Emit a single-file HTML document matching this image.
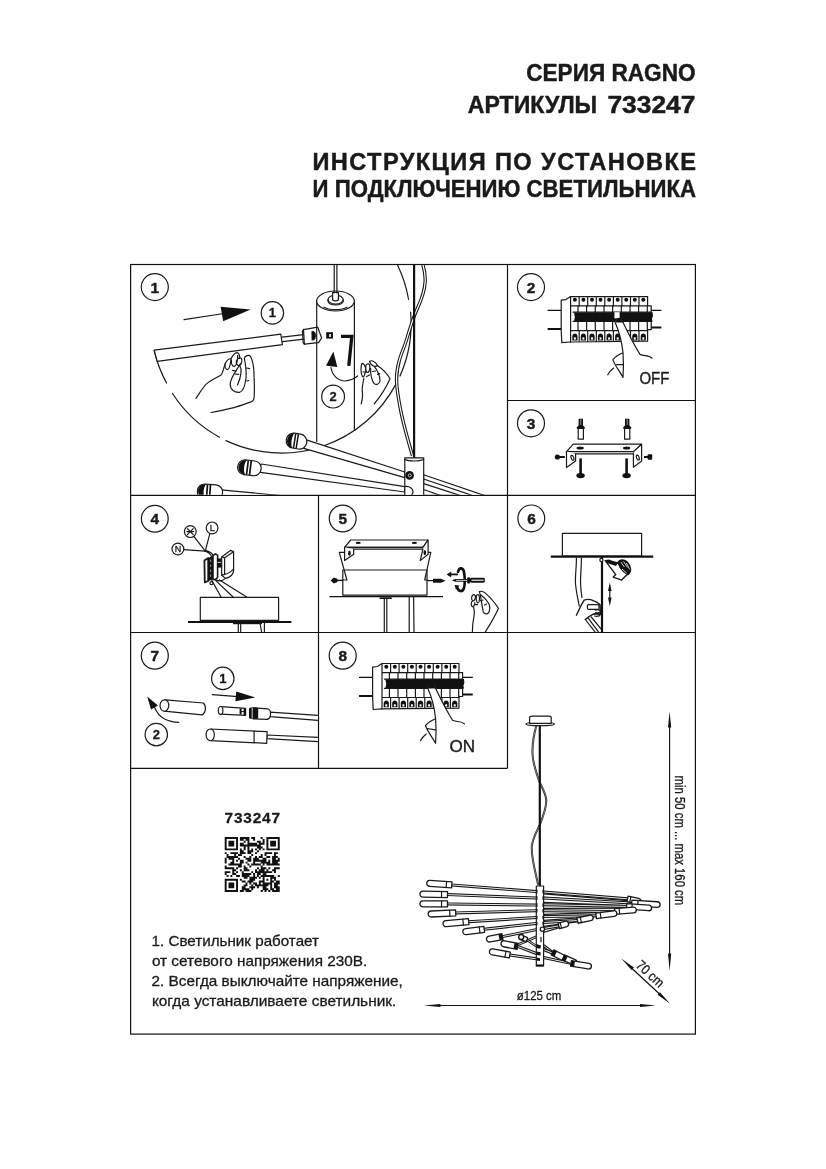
<!DOCTYPE html>
<html lang="ru">
<head>
<meta charset="utf-8">
<title>Инструкция по установке и подключению светильника</title>
<style>
html,body{margin:0;padding:0;background:#fff;}
body{width:826px;height:1169px;overflow:hidden;position:relative;font-family:"Liberation Sans",sans-serif;}
svg{position:absolute;left:0;top:0;display:block;filter:grayscale(1);}
text{font-family:"Liberation Sans",sans-serif;fill:#1a1a1a;}
.hd{font-weight:bold;font-size:23.6px;stroke:#1a1a1a;stroke-width:0.45;stroke-linejoin:round;}
.num{font-weight:bold;font-size:15.4px;text-anchor:middle;stroke:#1a1a1a;stroke-width:0.45;}
.snum{font-weight:bold;font-size:13px;text-anchor:middle;stroke:#1a1a1a;stroke-width:0.3;}
.note{font-size:14.6px;fill:#1a1a1a;stroke:#1a1a1a;stroke-width:0.3;}
.g{fill:none;stroke:#111;stroke-width:1.2;}
.t{fill:none;stroke:#1a1a1a;stroke-width:1.2;stroke-linecap:round;stroke-linejoin:round;}
.tw{fill:#fff;stroke:#1a1a1a;stroke-width:1.2;stroke-linecap:round;stroke-linejoin:round;}
.k{fill:#111;stroke:none;}
</style>
</head>
<body>
<svg width="826" height="1169" viewBox="0 0 826 1169">
<!-- HEADER -->
<g id="header">
<text class="hd" x="526.2" y="81.4" textLength="169.4" lengthAdjust="spacingAndGlyphs">СЕРИЯ RAGNO</text>
<text class="hd" x="467.8" y="113.3" textLength="129.4" lengthAdjust="spacingAndGlyphs">АРТИКУЛЫ</text>
<text class="hd" x="607.4" y="113.3" textLength="88" lengthAdjust="spacingAndGlyphs">733247</text>
<text class="hd" x="312.4" y="170" textLength="383.6" lengthAdjust="spacing">ИНСТРУКЦИЯ ПО УСТАНОВКЕ</text>
<text class="hd" x="312.6" y="197.2" textLength="383.4" lengthAdjust="spacingAndGlyphs">И ПОДКЛЮЧЕНИЮ СВЕТИЛЬНИКА</text>
</g>
<!-- GRID -->
<g id="grid" class="g">
<rect x="130.6" y="264.5" width="564.8" height="769.6"/>
<path d="M507.5 264.5V768.3M318.5 495.4V768.3M507.5 400.5H695.4M130.6 495.4H695.4M130.6 632.5H695.4M130.6 768.3H507.5"/>
</g>
<!-- STEP NUMBERS -->
<g id="steps">
<g class="t"><circle cx="154.8" cy="287.1" r="13.5"/><circle cx="531" cy="287.1" r="13.5"/><circle cx="531" cy="423.3" r="13.5"/>
<circle cx="154.8" cy="518.8" r="13.4"/><circle cx="342.7" cy="518.5" r="13.4"/><circle cx="531.3" cy="518.4" r="13.4"/>
<circle cx="154.8" cy="655.7" r="13.5"/><circle cx="342.7" cy="655.7" r="13.5"/></g>
<text class="num" x="154.8" y="292.5">1</text><text class="num" x="531" y="292.5">2</text><text class="num" x="531" y="428.5">3</text>
<text class="num" x="154.8" y="524.2">4</text><text class="num" x="342.7" y="523.9">5</text><text class="num" x="531.6" y="523.7">6</text>
<text class="num" x="154.8" y="661.1">7</text><text class="num" x="342.7" y="661.1">8</text>
</g>
<!-- PANELS -->
<g id="p1" clip-path="url(#c1)">
<defs><clipPath id="c1"><rect x="131.2" y="265.1" width="375.7" height="229.7"/></clipPath></defs>
<!-- magnifier circle (dashed-gap arc) -->
<path class="t" d="M154.2 350.5A129.7 129.7 0 0 0 166.5 383"/>
<path class="t" d="M172.5 393.5A129.7 129.7 0 0 0 219.5 437.2"/>
<path class="t" d="M226 440.6A129.7 129.7 0 0 0 395.8 384.4"/>
<path class="t" d="M400 376A129.7 129.7 0 0 0 410.6 312"/>
<path class="t" d="M408.6 299.5A129.7 129.7 0 0 0 396 262"/>
<!-- direction arrow + small 1 -->
<path class="t" d="M184 319.6L224 313.5"/>
<path class="k" d="M220.6 306.8L250.6 309.4L223.2 321.2Z"/>
<circle class="t" cx="272.4" cy="312.9" r="11.2"/>
<text class="snum" x="272.4" y="317.4">1</text>
<!-- tube -->
<path class="tw" d="M154.2 350.2L280.8 334.2L282.4 344.6L157.2 361.4Z"/>
<path class="t" d="M282 337.2L303.5 334.6M282.4 341.6L304 339.2" stroke-width="1.3"/>
<path class="tw" d="M303.5 329.6L317.8 327.2L321.6 338L318.6 342.6L304.4 344.2Z"/>
<path class="k" d="M311.4 331.2L313.6 330.9C316.6 332.2 316.8 338.6 313.8 340.3L311.6 340.6Z"/>
<path class="t" d="M303.6 329.4L302.4 331L303.2 342.8L304.6 344.4" stroke-width="2.2"/>
<!-- hand 1 -->
<path class="t" d="M195.9 398.3C199 394 203 387 206.8 383.6C211 380 217 377.5 221 374.9C223 373 224 366 225.3 363.4C226.5 361 229 358.5 231 358.8C232.5 356 235 352.5 237 352.6C239 353 240 356 239.6 358.5" stroke-width="1.3"/>
<path class="t" d="M225.3 363.4C224.5 366.5 225.5 369.5 227.5 369.6C229.5 369.4 230.5 364 231 358.8M231.5 360C231 364 232.5 366.8 234.4 366.4C236.5 365.5 238 360 237.6 355.5M236.5 360.5C235.6 363.5 237.5 366 239.5 365.5C241.5 364.5 242.5 361 241.5 358.5C240.5 357 238 358 236.5 360.5"/>
<path class="t" d="M240.6 363.5C237 370 230 378 230.2 384.6C230.4 390 234.5 392.6 239.5 392.3C243.5 391.5 245 386 246 378C246.6 371 245.5 364 244.4 358.5C244.5 355.5 249 354.5 250.4 356.3C252.5 360 253.6 366 253.9 372C254.3 380 254.6 390 254.2 396.7C254 400 252.5 401.5 250.4 402.1C245 404 239 406.3 234 407.6C226 409.5 218 411.3 211.1 412.5" stroke-width="1.3"/>
<path class="t" d="M239.5 365C242 369 241 377 237.5 385M232.5 370.3L236 371.2M235 374L238.6 374.4M246.5 368L249.6 368.6M246.6 381L248.6 380.6" stroke-width="1.2"/>
<!-- cylinder body -->
<path class="t" d="M316.7 301V441.5M354.4 301V430"/>
<ellipse class="tw" cx="335.5" cy="301" rx="18.85" ry="10"/>
<path class="t" d="M324 307.2C329 310.4 342 310.4 347 307.2"/>
<ellipse class="t" cx="335.6" cy="299.6" rx="7.6" ry="4.4"/>
<path class="t" d="M328 299.6V301.6C329.5 306 341.5 306 343.2 301.6V299.6"/>
<path class="tw" d="M332.6 300V292.5H338.4V300C337 301.3 334 301.3 332.6 300Z"/>
<path class="t" d="M334.2 264V293M336.9 264V293"/>
<!-- hole + hex key -->
<rect class="k" x="326.2" y="332.2" width="6.8" height="6.4"/>
<rect x="329.2" y="334" width="1.6" height="3" fill="#fff"/>
<path d="M341 336.4H351.8L348.8 365.8" fill="none" stroke="#111" stroke-width="3.3" stroke-linejoin="miter"/>
<!-- rotate arrow + small 2 -->
<path class="k" d="M333.4 351.4L326 365.8L337.3 367Z"/>
<path class="t" d="M331 367.5C332 375 338 381 345 381C350 380.6 354.5 378.5 357.6 376"/>
<circle class="t" cx="333.1" cy="396.6" r="11.4"/>
<text class="snum" x="333.1" y="401.1">2</text>
<!-- hand 2 -->
<path class="t" d="M361.8 363.5C360.5 368 360.8 374 362.5 376.5C364 378 365 374 365.6 370.4C366 367 364 363 361.8 363.5ZM365.8 366C365.5 370 366.3 372.8 368 372.4C369.8 371.5 370.4 366.5 369.4 364.5C368.3 363.3 366.4 364 365.8 366ZM369.4 361.5C371.5 359.5 376 362 377.4 365.4C376 367.4 371.5 366.5 369.4 361.5Z" stroke-width="1.2"/>
<path class="t" d="M370.6 368C370.5 374 371.5 380 374 383.4C376 385.4 379.5 384.4 380 381C380.4 376 376.5 369 374.4 366.6" stroke-width="1.3"/>
<path class="t" d="M377.4 365.4C382 368.5 387.5 374 390 378.8C386 388 380 397 374.3 403.9M363.8 378.5C363 384 361.5 388 362.4 392C363 396 362.2 400 361.2 403.9" stroke-width="1.3"/>
<path class="t" d="M363 372H366.5M366.6 376.5L369.5 375M372.5 371.5L375.5 371M377.5 374.5L379.8 373.6" stroke-width="1.1"/>
<!-- pole + wire -->
<path id="w1" d="M422.7 264C424.5 270 425.6 276 425.1 282C424.6 292 421 300.5 417.8 307.5C415.2 313 412.4 321 410.2 328C408.2 334 406.6 340 404.8 345C402.8 350.5 400.6 355.6 399.4 360C397.5 367 396.3 375 396.6 381.5C397 393 399.5 404 401.4 413.9C404 426 408.5 442 412.5 455.9" fill="none" stroke="#1a1a1a" stroke-width="3.4" stroke-linecap="butt"/>
<path d="M422.7 264C424.5 270 425.6 276 425.1 282C424.6 292 421 300.5 417.8 307.5C415.2 313 412.4 321 410.2 328C408.2 334 406.6 340 404.8 345C402.8 350.5 400.6 355.6 399.4 360C397.5 367 396.3 375 396.6 381.5C397 393 399.5 404 401.4 413.9C404 426 408.5 442 412.5 455.9" fill="none" stroke="#fff" stroke-width="1.2"/>
<path d="M414.1 264V458" stroke="#111" stroke-width="2.2" fill="none"/>
<!-- arms -->
<path class="tw" d="M305.6 439.6L404.8 472L404.8 477.6L303.8 448.4Z"/>
<path class="tw" d="M261.2 464L404.8 486.6V492L258.6 472.2Z"/>
<path class="tw" d="M221 489.8L300 497.5L222 497.5Z"/>
<path class="tw" d="M423.6 474.8L486 496H462L423.6 483.6Z"/>
<path class="t" d="M423.6 479L474 496"/>
<path class="t" d="M423.6 489.5L442 496"/>
<!-- lamp heads -->
<g transform="rotate(9 296.5 441)"><rect class="tw" x="286.2" y="433.6" width="20.6" height="15" rx="7.2"/><path class="k" d="M293.4 433.6C285 433.8 285 448.4 293.4 448.6C291 445 291 437 293.4 433.6Z"/><path d="M294.6 434V448.4M297.3 434V448.4" stroke="#111" stroke-width="1.5" fill="none"/></g>
<g transform="rotate(7 249.5 467.8)"><rect class="tw" x="237.6" y="460.4" width="23.6" height="14.8" rx="7.2"/><path class="k" d="M246 460.4C236 460.6 236 475 246 475.2C243.5 471.5 243.5 464 246 460.4Z"/><path d="M247.4 460.8V474.8M250.4 460.8V474.8" stroke="#111" stroke-width="1.7" fill="none"/></g>
<g transform="rotate(4 210 491.5)"><rect class="tw" x="197.4" y="484.4" width="25.2" height="15" rx="7.2"/><path class="k" d="M205.6 484.4C195.6 484.6 195.6 499 205.6 499.2C203 495.5 203 488 205.6 484.4Z"/><path d="M207 484.8V499M210 484.8V499" stroke="#111" stroke-width="1.7" fill="none"/></g>
<!-- hub -->
<rect class="tw" x="404.8" y="457.8" width="18.9" height="40"/>
<path class="t" d="M404.8 459.5C409 461.5 419 461.5 423.7 459.5"/>
<circle class="k" cx="409.6" cy="475.4" r="4.3"/><circle cx="409.8" cy="475.4" r="1.5" fill="none" stroke="#fff" stroke-width="0.7"/>
<path class="t" d="M405 486.5C410 486 413.5 489 413 492.5C412.5 495.5 408 497 405 496.2" stroke-width="1.4"/>
</g>
<g id="p2">
<g id="brk">
<path d="M547.6 310.4H561.2M651 310.4H661.4" stroke="#111" stroke-width="1.3" fill="none"/>
<path d="M547.6 329H561.2M651 327.6H661.4" stroke="#111" stroke-width="2" fill="none"/>
<path class="tw" d="M561.2 300.2L566 299.6L570.6 296.6H647.6V305.8H651.2V329.6H647.6V341.2L570.6 342L561.8 342.6L561.2 330Z"/>
<path class="t" d="M570.6 296.6V342M570.6 305.8H647.6M573 312.2H651.2M573 321.4H651.2M570.6 330.6H647.6"/>
<path class="t" d="M579.2 296.6V305.8M579.2 330.6V341.2M587.7 296.6V305.8M587.7 330.6V341.2M596.3 296.6V305.8M596.3 330.6V341.2M604.8 296.6V305.8M604.8 330.6V341.2M613.4 296.6V305.8M613.4 330.6V341.2M621.9 296.6V305.8M621.9 330.6V341.2M630.5 296.6V305.8M630.5 330.6V341.2M639.0 296.6V305.8M639.0 330.6V341.2M578.0 305.8V312.2M578.0 321.4V329.8M586.6 305.8V312.2M586.6 321.4V329.8M595.3 305.8V312.2M595.3 321.4V329.8M604.0 305.8V312.2M604.0 321.4V329.8M612.6 305.8V312.2M612.6 321.4V329.8M621.3 305.8V312.2M621.3 321.4V329.8M630.0 305.8V312.2M630.0 321.4V329.8M638.6 305.8V312.2M638.6 321.4V329.8M647.3 305.8V312.2M647.3 321.4V329.8" stroke-width="1.1"/>
<circle class="k" cx="574.9" cy="299.8" r="2"/>
<circle class="k" cx="583.4" cy="299.8" r="2"/>
<circle class="k" cx="592.0" cy="299.8" r="2"/>
<circle class="k" cx="600.5" cy="299.8" r="2"/>
<circle class="k" cx="609.1" cy="299.8" r="2"/>
<circle class="k" cx="617.7" cy="299.8" r="2"/>
<circle class="k" cx="626.2" cy="299.8" r="2"/>
<circle class="k" cx="634.8" cy="299.8" r="2"/>
<circle class="k" cx="643.3" cy="299.8" r="2"/>
<path class="k" d="M572.3 340.4V336.4C572.3 332.6 577.5 332.6 577.5 336.4V340.4Z"/>
<rect x="573.9" y="337.4" width="2" height="2.2" fill="#fff"/>
<path class="k" d="M580.8 340.4V336.4C580.8 332.6 586.0 332.6 586.0 336.4V340.4Z"/>
<rect x="582.4" y="337.4" width="2" height="2.2" fill="#fff"/>
<path class="k" d="M589.4 340.4V336.4C589.4 332.6 594.6 332.6 594.6 336.4V340.4Z"/>
<rect x="591.0" y="337.4" width="2" height="2.2" fill="#fff"/>
<path class="k" d="M597.9 340.4V336.4C597.9 332.6 603.1 332.6 603.1 336.4V340.4Z"/>
<rect x="599.5" y="337.4" width="2" height="2.2" fill="#fff"/>
<path class="k" d="M606.5 340.4V336.4C606.5 332.6 611.7 332.6 611.7 336.4V340.4Z"/>
<rect x="608.1" y="337.4" width="2" height="2.2" fill="#fff"/>
<path class="k" d="M615.1 340.4V336.4C615.1 332.6 620.3 332.6 620.3 336.4V340.4Z"/>
<rect x="616.7" y="337.4" width="2" height="2.2" fill="#fff"/>
<path class="k" d="M623.6 340.4V336.4C623.6 332.6 628.8 332.6 628.8 336.4V340.4Z"/>
<rect x="625.2" y="337.4" width="2" height="2.2" fill="#fff"/>
<path class="k" d="M632.2 340.4V336.4C632.2 332.6 637.4 332.6 637.4 336.4V340.4Z"/>
<rect x="633.8" y="337.4" width="2" height="2.2" fill="#fff"/>
<path class="k" d="M640.7 340.4V336.4C640.7 332.6 645.9 332.6 645.9 336.4V340.4Z"/>
<rect x="642.3" y="337.4" width="2" height="2.2" fill="#fff"/>
<path class="k" d="M574 312.4L652.6 312.2L653 316L651.8 319L652.8 321.6L574 321.6L574.8 317Z"/>
</g>
<rect x="614.4" y="312.2" width="5.2" height="6.2" fill="#fff"/>
<!-- finger -->
<path class="tw" d="M615.2 321.8L617 318.4L620.6 318.2L623.2 322C628 333 634 345 640 354.4C644 356.4 648.6 354.6 651.9 358L640 368L623 377.4C619 370 615 366 612.9 359.6C615.5 356.5 620 354 623 352.8C622 343 619 331 615.2 321.8Z" style="stroke:none"/>
<path class="t" d="M615.2 322.4C619 331 622 343 623 352.8C620 354 615.5 356.5 612.9 359.6C615 366 619 370 623 377.4M623 352.8C623.6 361 623.6 370 623 377.4M616.6 364.6H622.6M613.6 368C611 370 609 372.6 607.8 374.8M622.6 321.6C628 333 634 345 640 354.4C644 356.4 648.6 354.6 651.9 358" stroke-width="1.3"/>
<path class="k" d="M614.8 322.6L616.6 318.2L621 317.8L623.4 322.6Z"/>
<text x="639.4" y="383.6" style="font-size:16.2px;stroke:#1a1a1a;stroke-width:0.35" textLength="30" lengthAdjust="spacingAndGlyphs">OFF</text>
</g>
<g id="p3">
<path class="tw" d="M578.2 428.4V439.2H583.4V428.4Z" stroke-width="1.3"/><path class="k" d="M578.6 418.8H583.0V425.4L584.8 427.2V428.8H576.8V427.2L578.6 425.4Z"/><path d="M580.8 419.5V425" stroke="#fff" stroke-width="0.6"/><path class="tw" d="M624.6 428.4V439.2H629.8V428.4Z" stroke-width="1.3"/><path class="k" d="M625.0 418.8H629.4V425.4L631.2 427.2V428.8H623.2V427.2L625.0 425.4Z"/><path d="M627.2 419.5V425" stroke="#fff" stroke-width="0.6"/>
<path class="tw" d="M573.3 444.2H641.6L633.6 451.6H566.5Z"/>
<path class="tw" d="M566.5 451.6H633.6V453.8H566.5Z" stroke-width="1"/>
<path class="tw" d="M566.5 451.6V467.6L575.6 461V453.8"/>
<path class="tw" d="M633.4 453.8V467.2L641.6 461V444.2L633.6 451.6"/>
<ellipse class="k" cx="580.2" cy="447.9" rx="3.6" ry="1.5"/><ellipse class="k" cx="626.6" cy="447.9" rx="3.6" ry="1.5"/>
<ellipse class="t" cx="572.4" cy="457.8" rx="1.3" ry="2.6" transform="rotate(-20 572.4 457.8)"/>
<ellipse class="t" cx="637.8" cy="457.6" rx="1.3" ry="2.6" transform="rotate(-20 637.8 457.6)"/>
<path d="M580.6 458.4V474" stroke="#111" stroke-width="2.6" fill="none"/><ellipse class="k" cx="580.6" cy="475.6" rx="4.2" ry="2.6"/><path d="M626.6 458.4V474" stroke="#111" stroke-width="2.6" fill="none"/><ellipse class="k" cx="626.6" cy="475.6" rx="4.2" ry="2.6"/>
<path d="M558 457H564.8M644 457H650" stroke="#111" stroke-width="2.2" fill="none"/>
<circle class="k" cx="557.4" cy="457" r="2.6"/><rect class="k" x="647.6" y="454.2" width="4.6" height="5.6" rx="1"/>
</g>
<g id="p4">
<!-- label circles -->
<path class="t" d="M183.8 549.6L205.3 551.2M193.8 536.4L205.3 551.2M209.8 533.6L205.3 551.2"/>
<path class="t" d="M204.6 551C208 552 210.6 554 211.9 557M206 550.6C209.4 551.6 212.6 553.4 214 556.6"/>
<circle class="tw" cx="177.9" cy="549" r="5.9"/><circle class="tw" cx="190.3" cy="531.6" r="5.9"/><circle class="tw" cx="212.1" cy="527.9" r="5.9"/>
<text x="177.9" y="552.2" style="font-size:9px;text-anchor:middle;stroke:#1a1a1a;stroke-width:0.3">N</text>
<text x="212.3" y="531.1" style="font-size:9px;text-anchor:middle;stroke:#1a1a1a;stroke-width:0.3">L</text>
<path class="t" d="M187.4 528.6L193.2 534.6M193.2 528.6L187.4 534.6M186.8 531.6H193.8" stroke-width="0.9"/>
<!-- terminal block -->
<path class="tw" d="M204.4 560.6L208.2 558V581L204.8 582.4Z" style="stroke-width:1.8"/>
<path class="k" d="M208.2 558L213 555.6V579.4L208.2 581Z"/>
<path d="M210.6 559.5V577.5" stroke="#fff" stroke-width="0.6" stroke-dasharray="2.4 2.6"/>
<path class="tw" d="M213 555.6L215.4 553.8L217.6 555.2V577.6L215 579.6L213 579.4Z" style="stroke-width:1.6"/>
<path class="k" d="M217.6 558.4H222V567.6H217.6Z"/><path d="M217.6 562.4H222" stroke="#fff" stroke-width="0.8"/>
<!-- lever -->
<path class="tw" d="M221.7 557L230.4 550.4L233.6 551.6V570.6C233 575 229.6 577.6 225.5 578.4L221.7 575.2Z"/>
<path class="t" d="M221.7 557L224.6 557.8V574.4L221.7 575.2M224.6 557.8L233.2 552M224.6 574.4C228 573.6 231 572 233.4 569"/>
<path class="t" d="M215 579.6C219 581.6 223 580.6 225.5 578.4" />
<!-- wires to box -->
<path class="t" d="M211.9 580.6L221.1 597M215.8 580.6L233.1 597M219.5 580L246.7 597" stroke-width="1.6"/>
<circle class="tw" cx="211.4" cy="583.2" r="1.5"/>
<!-- canopy box -->
<rect class="tw" x="200.3" y="597.4" width="78.3" height="23"/>
<path d="M188 622H291.4" stroke="#111" stroke-width="2.2" fill="none"/>
<path d="M233 623.4H262" stroke="#111" stroke-width="1.6" fill="none"/>
<path class="t" d="M238.3 623V632M240.7 623V632M260 623L261.6 632M264.4 623V632"/>
</g>
<g id="p5">
<!-- canopy box -->
<path class="tw" d="M339.3 552.3L342.8 570H427L430.8 552.3Z" style="stroke:none"/>
<path class="tw" d="M342.8 570H427V595.2H342.8Z"/>
<path class="t" d="M344.6 552.3H339.3L346.9 580H342.8M423 552.3H430.8L424.7 580H427"/>
<!-- bracket -->
<path class="tw" d="M350.7 540H428.1L422.9 547.3H344.6Z"/>
<path class="tw" d="M344.6 547.3H422.9V549.2H344.6Z" stroke-width="1"/>
<path class="tw" d="M344.6 547.3V560.6L353.7 554.2V549.2"/>
<path class="tw" d="M422.9 549.2L420.2 560.6L428.1 554.2V540L422.9 547.3"/>
<ellipse class="k" cx="358.2" cy="542.9" rx="2.6" ry="1.1"/><ellipse class="k" cx="414.4" cy="542.9" rx="2.6" ry="1.1"/>
<ellipse class="k" cx="349.4" cy="553.2" rx="1.3" ry="2.6"/><ellipse class="k" cx="424.8" cy="552.6" rx="1.3" ry="2.6"/>
<!-- ceiling line and rods -->
<path d="M329.4 596.7H443" stroke="#111" stroke-width="1.2" fill="none"/>
<path d="M379.6 598.2H391.8" stroke="#111" stroke-width="1.6" fill="none"/>
<path class="t" d="M384.3 598V632M386.8 598V632M409.2 597V632M413.6 597L414 632" stroke-width="1.3"/>
<!-- side screws -->
<path d="M333 580.4H343" stroke="#111" stroke-width="1.4" fill="none"/>
<path class="k" d="M330.6 580.4L333.8 577.4L337.4 578.8V582L333.8 583.4Z"/>
<path d="M427 580.6H434" stroke="#111" stroke-width="1.2" fill="none"/>
<path class="k" d="M433 578.8H441L445.6 580.8L441 582.8H433Z"/>
<!-- rotate icon -->
<path d="M458 572C459 567 463.4 567 464.2 573C465 579 465 584 464 588C462.6 592.6 458.6 591.6 457.4 588" fill="none" stroke="#111" stroke-width="2.6" stroke-linecap="round"/>
<path d="M449 574.4H458" stroke="#111" stroke-width="1.8" fill="none"/>
<path class="k" d="M446.6 574.4L451.2 571.4V577.4Z"/>
<path class="k" d="M454.6 585L459.4 585.6L456 590Z"/>
<!-- screwdriver -->
<path class="k" d="M451.6 580.3L455.6 579H467.4V581.8H455.6Z"/>
<path d="M456 580.4H467" stroke="#fff" stroke-width="0.8"/>
<rect class="k" x="467.2" y="577.2" width="2.8" height="6.4" rx="1"/>
<rect class="k" x="470" y="577.7" width="14.8" height="5" rx="1.4"/>
<path d="M471.5 580.2H483.6" stroke="#fff" stroke-width="1.1"/>
<!-- hand -->
<path class="t" d="M473.4 594.6C471.4 595.6 471 599 472.4 600.6C474 601.4 475.6 599 475.4 596.6C475 595 474.2 594.2 473.4 594.6ZM472.6 600.8C471 602 470.8 605 472 606.4C473.6 607.2 475 605 474.8 602.6M476.4 595.4C476 599 476.4 602.4 478 603C479.6 602.6 479.8 598 479 595.4C478.2 594.4 476.8 594.6 476.4 595.4Z"/>
<path class="t" d="M479.4 591.6C481 597 482 606 483.2 611.7C484.4 614.4 487.4 614.6 488.6 612.6C490 610 490.2 607 489 604C487 600 483.6 597 481 595" stroke-width="1.3"/>
<path class="t" d="M479.4 591.6C481.4 590.8 483.6 591.6 485.4 593.1C490.4 597.6 495.4 603.4 498.4 608.4C495 616.4 490 624.4 485.4 631.8M473.6 606.8C474.4 610 474.6 613 474 616C473 621 472.4 626 472.4 631.8" stroke-width="1.3"/>
<path class="t" d="M474.6 604.6H477.6M480.6 600.6L483 600M484.6 605L486.6 604" stroke-width="1.1"/>
</g>
<g id="p6">
<rect class="tw" x="562.4" y="533.4" width="79.2" height="22.6"/>
<path d="M550.8 556.6H653.2" stroke="#111" stroke-width="2.4" fill="none"/>
<!-- wire -->
<path class="t" d="M576.4 558C576.6 566 575 576 575.5 584C576.4 593 578 600 579.3 606M581.4 558C581.6 566 580.2 576 580.6 584C580.8 589 581.4 594 581.9 597.5" stroke-width="1.3"/>
<!-- pole -->
<path d="M602 557V632.4" stroke="#111" stroke-width="2.2" fill="none"/>
<circle class="tw" cx="601.4" cy="560" r="1.6" stroke-width="1"/>
<!-- lower hand -->
<path class="tw" d="M576.4 615.3C579 610 581.4 604 584.4 600C587.4 599 591 599.6 593.7 600.8C596 601.6 598.4 603 599.7 604.2L600.6 614L593.7 613.8C590.6 615.4 587.6 617.4 585.3 619.5" style="stroke-width:1.3"/>
<rect class="tw" x="587.4" y="604.6" width="11.6" height="4.8" rx="1.2" stroke-width="1.3"/>
<path class="t" d="M595.4 610.2C597 609.4 600 609.8 600.6 611C600.6 612.6 597.6 613.2 595.6 612.6M594 614C596 613.2 599.4 613.6 600 614.8C599.8 616.2 596.6 616.6 594.6 616" stroke-width="1.3"/>
<path class="k" d="M600.4 604.5L602 603.8V616L600.4 615Z"/>
<path class="t" d="M585.3 619.5L595.4 632.4M588.2 618.2L598.8 632.4M591.2 617L601 628.8" stroke-width="1.3"/>
<!-- pointing hand -->
<path class="tw" d="M605.2 560.6L617.5 562.7L628.5 572.9L621.7 580.1L613.2 577.1L615.8 574.6Z" style="stroke-width:1.4"/>
<path class="k" d="M605 560L609 559.6L618 563L616 566L607.6 563.2Z"/>
<path class="k" d="M617.4 562.6C618.4 559.4 622.4 558.6 625.4 560C628.4 561.6 631 565.6 631.2 569.6C631.2 572.6 629.6 574.6 628 575.6L623 572L619.6 568Z"/>
<path d="M620.8 562L624.4 567M623.6 561.4L627.4 567.4M626.4 563L629.6 569.4M622 569L626.6 573" stroke="#fff" stroke-width="0.8" fill="none"/>
<!-- double arrow -->
<path d="M609.8 588V601" stroke="#111" stroke-width="1.2" fill="none"/>
<path class="k" d="M609.8 582.4L611.6 591H608ZM609.8 606.2L611.6 597.6H608Z"/>
</g>
<g id="p7" clip-path="url(#c7)"><defs><clipPath id="c7"><rect x="131.2" y="633.1" width="186.7" height="134.6"/></clipPath></defs>
<circle class="t" cx="222.8" cy="678.4" r="11.2"/><text class="snum" x="222.8" y="682.9">1</text>
<circle class="t" cx="156.3" cy="734.6" r="11.2"/><text class="snum" x="156.3" y="739.1">2</text>
<path class="t" d="M212.3 694.7L238 696.6"/>
<path class="k" d="M236.2 691.6L255.4 697.6L235.4 701.2Z"/>
<!-- curved arrow 2 -->
<path class="k" d="M147.2 696.6L158 705.4L151 709.6Z"/>
<path class="t" d="M154.6 707.4C157 713 160 716.4 164.1 718.7C168.6 721 173.6 722.2 178.7 722.3" stroke-width="1.4"/>
<!-- cap -->
<path class="tw" d="M165.2 699.9L203.3 703C206.6 706 206 712.6 202.2 714.9L164.1 711.1Z"/>
<ellipse class="tw" cx="164.4" cy="705.5" rx="4.4" ry="5.7" transform="rotate(5 164.4 705.5)"/>
<!-- bulb pin -->
<path class="tw" d="M221 706.6L245.6 708.4V715.4L220.6 714.2Z"/>
<ellipse class="tw" cx="220.6" cy="710.4" rx="2.3" ry="3.9"/>
<path class="k" d="M239.6 708.6H241.6V714.6H239.6ZM243.6 709H245.6V715H243.6Z"/><path d="M240 711.6H245" stroke="#111" stroke-width="1"/>
<!-- socket + arm -->
<path class="tw" d="M270 712.2L320 715.6V720.6L270 716.6Z"/>
<path class="tw" d="M253 707.8L267.6 708.8C271.6 710 271.6 717.6 267.4 719.4L253 718.8Z"/>
<rect class="k" x="249" y="707.6" width="9.2" height="11.2" rx="1.6"/>
<path d="M252.2 708V718.4" stroke="#fff" stroke-width="0.8"/>
<!-- assembled lamp -->
<path class="tw" d="M266.8 735L320 737.4V741.8L266.8 738.6Z"/>
<path class="tw" d="M210 729L267.1 731.7L266.7 743.3L210 740.6C204.8 739.6 204.8 730 210 729Z"/>
<path class="t" d="M211.6 729.2C215.2 731 215.2 738.6 211.6 740.6M254.1 731.2V742.6"/>
</g>
<g id="p8">
<use href="#brk" transform="translate(-188.6 366.9)"/>
<g transform="translate(-187.4 365.9)">
<path class="tw" d="M615.2 321.8L617 318.4L620.6 318.2L623.2 322C628 333 634 345 640 354.4C644 356.4 648.6 354.6 651.9 358L640 368L623 377.4C619 370 615 366 612.9 359.6C615.5 356.5 620 354 623 352.8C622 343 619 331 615.2 321.8Z" style="stroke:none"/>
<path class="t" d="M615.2 322.4C619 331 622 343 623 352.8C620 354 615.5 356.5 612.9 359.6C615 366 619 370 623 377.4M623 352.8C623.6 361 623.6 370 623 377.4M614.6 362.6L622.6 364M613.6 368C611 370 609 372.6 607.8 374.8M622.6 321.6C628 333 634 345 640 354.4C644 356.4 648.6 354.6 651.9 358" stroke-width="1.3"/>
<path class="k" d="M614.8 322.6L616.6 318.2L621 317.8L623.4 322.6Z"/>
</g>
<text x="449.6" y="751.6" style="font-size:16.2px;stroke:#1a1a1a;stroke-width:0.35" textLength="25.6" lengthAdjust="spacingAndGlyphs">ON</text>
</g>
<g id="p9">
<path d="M536.6 724.6C534 734 532.2 744 532.5 753.7C533 765 537 775 540 783C543.4 790 546.4 795 546.3 800.8C546 810 542.6 818 539.6 825.2C536 833 531.6 840 531.7 848C532 862 536 874 538.2 885" fill="none" stroke="#222" stroke-width="2"/>
<path d="M536.6 724.6C534 734 532.2 744 532.5 753.7C533 765 537 775 540 783C543.4 790 546.4 795 546.3 800.8C546 810 542.6 818 539.6 825.2C536 833 531.6 840 531.7 848C532 862 536 874 538.2 885" fill="none" stroke="#fff" stroke-width="0.4"/>
<path d="M539.8 724V886" stroke="#111" stroke-width="2.2" fill="none"/>
<ellipse class="tw" cx="540.2" cy="724" rx="14.2" ry="1.7"/>
<path class="tw" d="M529.6 723.4V717.6C529.6 716.6 531 716.2 532 716.2H548.8C550 716.2 551.2 716.6 551.2 717.6V723.4Z"/>
<path class="t" d="M543.6 893.9L640.0 901.7" stroke-width="0.9"/>
<path class="t" d="M543.6 897.4L650.0 904.7" stroke-width="0.9"/>
<path class="t" d="M543.6 902.4L655.0 906.7" stroke-width="0.9"/>
<path class="t" d="M543.6 908.4L648.0 908.2" stroke-width="0.9"/>
<path class="t" d="M543.6 914.4L630.0 911.7" stroke-width="0.9"/>
<path class="t" d="M543.6 920.4L610.0 915.7" stroke-width="0.9"/>
<path class="t" d="M543.6 926.4L590.0 920.2" stroke-width="0.9"/>
<path class="t" d="M543.6 932.4L566.0 925.7" stroke-width="0.9"/>
<path d="M451.8 884.9L536.3 891.6" stroke="#111" stroke-width="3.0" fill="none"/><path d="M451.8 884.9L536.3 891.6" stroke="#fff" stroke-width="0.9" fill="none"/>
<path d="M447.5 894.6L536.3 898.0" stroke="#111" stroke-width="3.0" fill="none"/><path d="M447.5 894.6L536.3 898.0" stroke="#fff" stroke-width="0.9" fill="none"/>
<path d="M447.5 903.9L536.3 905.1" stroke="#111" stroke-width="3.0" fill="none"/><path d="M447.5 903.9L536.3 905.1" stroke="#fff" stroke-width="0.9" fill="none"/>
<path d="M455.7 912.9L536.3 910.7" stroke="#111" stroke-width="3.0" fill="none"/><path d="M455.7 912.9L536.3 910.7" stroke="#fff" stroke-width="0.9" fill="none"/>
<path d="M468.7 921.7L536.3 917.5" stroke="#111" stroke-width="3.0" fill="none"/><path d="M468.7 921.7L536.3 917.5" stroke="#fff" stroke-width="0.9" fill="none"/>
<path d="M484.2 929.3L536.3 923.4" stroke="#111" stroke-width="3.0" fill="none"/><path d="M484.2 929.3L536.3 923.4" stroke="#fff" stroke-width="0.9" fill="none"/>
<path d="M502.4 936.6L536.3 929.6" stroke="#111" stroke-width="3.0" fill="none"/><path d="M502.4 936.6L536.3 929.6" stroke="#fff" stroke-width="0.9" fill="none"/>
<path d="M517.6 946.4L536.3 953.5" stroke="#111" stroke-width="3.0" fill="none"/><path d="M517.6 946.4L536.3 953.5" stroke="#fff" stroke-width="0.9" fill="none"/>
<path d="M509.8 955.0L536.3 958.8" stroke="#111" stroke-width="3.0" fill="none"/><path d="M509.8 955.0L536.3 958.8" stroke="#fff" stroke-width="0.9" fill="none"/>
<path d="M543.6 892.0L627.5 898.8" stroke="#111" stroke-width="3.0" fill="none"/><path d="M543.6 892.0L627.5 898.8" stroke="#fff" stroke-width="0.9" fill="none"/>
<path d="M543.6 898.0L631.7 903.0" stroke="#111" stroke-width="3.0" fill="none"/><path d="M543.6 898.0L631.7 903.0" stroke="#fff" stroke-width="0.9" fill="none"/>
<path d="M543.6 904.7L626.6 906.4" stroke="#111" stroke-width="3.0" fill="none"/><path d="M543.6 904.7L626.6 906.4" stroke="#fff" stroke-width="0.9" fill="none"/>
<path d="M543.6 910.7L614.7 911.5" stroke="#111" stroke-width="3.0" fill="none"/><path d="M543.6 910.7L614.7 911.5" stroke="#fff" stroke-width="0.9" fill="none"/>
<path d="M543.6 916.6L596.1 915.8" stroke="#111" stroke-width="3.0" fill="none"/><path d="M543.6 916.6L596.1 915.8" stroke="#fff" stroke-width="0.9" fill="none"/>
<path d="M543.6 922.5L577.5 920.5" stroke="#111" stroke-width="3.0" fill="none"/><path d="M543.6 922.5L577.5 920.5" stroke="#fff" stroke-width="0.9" fill="none"/>
<path d="M543.6 928.5L558.8 925.9" stroke="#111" stroke-width="3.0" fill="none"/><path d="M543.6 928.5L558.8 925.9" stroke="#fff" stroke-width="0.9" fill="none"/>
<path d="M543.6 945.5L552.5 952.4" stroke="#111" stroke-width="3.0" fill="none"/><path d="M543.6 945.5L552.5 952.4" stroke="#fff" stroke-width="0.9" fill="none"/>
<path d="M543.6 949.5L563.3 957.4" stroke="#111" stroke-width="3.0" fill="none"/><path d="M543.6 949.5L563.3 957.4" stroke="#fff" stroke-width="0.9" fill="none"/>
<path d="M543.6 957.5L571.0 963.4" stroke="#111" stroke-width="3.0" fill="none"/><path d="M543.6 957.5L571.0 963.4" stroke="#fff" stroke-width="0.9" fill="none"/>
<path d="M517.8 944.8L536.3 936.8" stroke="#111" stroke-width="2.6" fill="none"/><path d="M517.8 944.8L536.3 936.8" stroke="#fff" stroke-width="0.8" fill="none"/>
<path d="M527.6 940.2L536.3 946.2" stroke="#111" stroke-width="2.6" fill="none"/><path d="M527.6 940.2L536.3 946.2" stroke="#fff" stroke-width="0.8" fill="none"/>
<g transform="translate(427.2 883.2) rotate(3.95)"><path class="tw" style="stroke-width:1.3" d="M2.70 -3.00H24.66V3.00H2.70C-1.50 3.00 -1.50 -3.00 2.70 -3.00Z"/><path class="t" d="M19.23 -3.00V3.00" stroke-width="1.1"/></g>
<g transform="translate(420.4 894.1) rotate(1.06)"><path class="tw" style="stroke-width:1.3" d="M2.70 -3.00H27.10V3.00H2.70C-1.50 3.00 -1.50 -3.00 2.70 -3.00Z"/><path class="t" d="M21.14 -3.00V3.00" stroke-width="1.1"/></g>
<g transform="translate(420.4 903.9) rotate(0.00)"><path class="tw" style="stroke-width:1.3" d="M2.70 -3.00H27.10V3.00H2.70C-1.50 3.00 -1.50 -3.00 2.70 -3.00Z"/><path class="t" d="M21.14 -3.00V3.00" stroke-width="1.1"/></g>
<g transform="translate(428.6 914.1) rotate(-2.54)"><path class="tw" style="stroke-width:1.3" d="M2.70 -3.00H27.13V3.00H2.70C-1.50 3.00 -1.50 -3.00 2.70 -3.00Z"/><path class="t" d="M21.16 -3.00V3.00" stroke-width="1.1"/></g>
<g transform="translate(443.5 923.9) rotate(-4.99)"><path class="tw" style="stroke-width:1.3" d="M2.70 -3.00H25.30V3.00H2.70C-1.50 3.00 -1.50 -3.00 2.70 -3.00Z"/><path class="t" d="M19.73 -3.00V3.00" stroke-width="1.1"/></g>
<g transform="translate(463.3 931.9) rotate(-7.09)"><path class="tw" style="stroke-width:1.3" d="M2.70 -3.00H21.06V3.00H2.70C-1.50 3.00 -1.50 -3.00 2.70 -3.00Z"/><path class="t" d="M16.43 -3.00V3.00" stroke-width="1.1"/></g>
<g transform="translate(487.0 939.5) rotate(-10.66)"><path class="tw" style="stroke-width:1.3" d="M2.70 -3.00H15.67V3.00H2.70C-1.50 3.00 -1.50 -3.00 2.70 -3.00Z"/><rect class="k" x="12.22" y="-3.00" width="3.45" height="6.00"/></g>
<g transform="translate(501.5 943.3) rotate(10.90)"><path class="tw" style="stroke-width:1.3" d="M2.70 -3.00H16.40V3.00H2.70C-1.50 3.00 -1.50 -3.00 2.70 -3.00Z"/><rect class="k" x="12.79" y="-3.00" width="3.61" height="6.00"/></g>
<g transform="translate(489.9 951.4) rotate(10.25)"><path class="tw" style="stroke-width:1.3" d="M2.70 -3.00H20.22V3.00H2.70C-1.50 3.00 -1.50 -3.00 2.70 -3.00Z"/><path class="t" d="M15.77 -3.00V3.00" stroke-width="1.1"/></g>
<g transform="translate(640.5 901.6) rotate(-167.85)"><path class="tw" style="stroke-width:1.3" d="M2.52 -2.80H13.30V2.80H2.52C-1.40 2.80 -1.40 -2.80 2.52 -2.80Z"/><path class="t" d="M10.37 -2.80V2.80" stroke-width="1.1"/></g>
<g transform="translate(659.7 904.7) rotate(-176.53)"><path class="tw" style="stroke-width:1.3" d="M2.52 -2.80H28.05V2.80H2.52C-1.40 2.80 -1.40 -2.80 2.52 -2.80Z"/><path class="t" d="M21.88 -2.80V2.80" stroke-width="1.1"/></g>
<g transform="translate(651.2 908.1) rotate(-176.05)"><path class="tw" style="stroke-width:1.3" d="M2.52 -2.80H24.66V2.80H2.52C-1.40 2.80 -1.40 -2.80 2.52 -2.80Z"/><path class="t" d="M19.23 -2.80V2.80" stroke-width="1.1"/></g>
<g transform="translate(635.9 909.8) rotate(175.42)"><path class="tw" style="stroke-width:1.3" d="M2.52 -2.80H21.27V2.80H2.52C-1.40 2.80 -1.40 -2.80 2.52 -2.80Z"/><path class="t" d="M16.59 -2.80V2.80" stroke-width="1.1"/></g>
<g transform="translate(616.4 913.2) rotate(172.70)"><path class="tw" style="stroke-width:1.3" d="M2.52 -2.80H20.47V2.80H2.52C-1.40 2.80 -1.40 -2.80 2.52 -2.80Z"/><path class="t" d="M15.96 -2.80V2.80" stroke-width="1.1"/></g>
<g transform="translate(592.7 917.5) rotate(168.84)"><path class="tw" style="stroke-width:1.3" d="M2.52 -2.80H15.49V2.80H2.52C-1.40 2.80 -1.40 -2.80 2.52 -2.80Z"/><path class="t" d="M12.08 -2.80V2.80" stroke-width="1.1"/></g>
<g transform="translate(568.1 923.4) rotate(164.95)"><path class="tw" style="stroke-width:1.3" d="M2.52 -2.80H9.63V2.80H2.52C-1.40 2.80 -1.40 -2.80 2.52 -2.80Z"/><path class="t" d="M7.51 -2.80V2.80" stroke-width="1.1"/></g>
<g transform="translate(552.5 952.4) rotate(26.76)"><path class="tw" style="stroke-width:1.3" d="M0 -2.80H10.81C14.73 -2.80 14.73 2.80 10.81 2.80H0Z"/><rect class="k" x="0" y="-2.80" width="3.6" height="5.60"/></g>
<g transform="translate(563.3 957.4) rotate(24.21)"><path class="tw" style="stroke-width:1.3" d="M0 -2.80H11.62C15.54 -2.80 15.54 2.80 11.62 2.80H0Z"/><rect class="k" x="0" y="-2.80" width="3.6" height="5.60"/></g>
<g transform="translate(571.0 963.4) rotate(9.09)"><path class="tw" style="stroke-width:1.3" d="M0 -2.80H17.73C21.65 -2.80 21.65 2.80 17.73 2.80H0Z"/><rect class="k" x="0" y="-2.80" width="3.6" height="5.60"/></g>
<path class="tw" style="stroke-width:1.3" d="M520.4 934.6L527.6 937.6L526.4 941.6L519.6 939.4Z"/><circle class="tw" style="stroke-width:1.4" cx="521.2" cy="937" r="2.5"/>
<rect class="tw" x="536.3" y="886" width="7.3" height="80" stroke-width="1.3"/>
<path d="M536.4 965.4H543.5" stroke="#111" stroke-width="2"/>
<path class="t" d="M536.9 890.2V893.0" stroke-width="1.6"/>
<path class="t" d="M543.0 890.4V892.8" stroke-width="1.4"/>
<path class="t" d="M536.9 896.6V899.4" stroke-width="1.6"/>
<path class="t" d="M543.0 896.8V899.2" stroke-width="1.4"/>
<path class="t" d="M536.9 903.7V906.5" stroke-width="1.6"/>
<path class="t" d="M543.0 903.9V906.3" stroke-width="1.4"/>
<path class="t" d="M536.9 909.3V912.1" stroke-width="1.6"/>
<path class="t" d="M543.0 909.5V911.9" stroke-width="1.4"/>
<path class="t" d="M536.9 916.1V918.9" stroke-width="1.6"/>
<path class="t" d="M543.0 916.3V918.7" stroke-width="1.4"/>
<path class="t" d="M536.9 922.0V924.8" stroke-width="1.6"/>
<path class="t" d="M543.0 922.2V924.6" stroke-width="1.4"/>
<circle class="tw" cx="542.4" cy="929.2" r="2.1" style="stroke-width:1.3"/><path class="t" d="M541 937.4V942" stroke-width="1.8"/>
<path class="k" d="M536.4 944L541 945.6L540.4 948.8L536.4 948ZM536.4 951.4L540.6 952.2V955.4L536.4 955ZM536.6 957.6L540 958.2V961L536.6 960.6Z"/>
<path d="M669.6 722V960" stroke="#111" stroke-width="1.1" fill="none"/>
<path class="k" d="M669.6 711.4L671.2 727.6H668ZM669.6 970.8L671.2 953.6H668Z"/>
<path d="M435 1005.5H645" stroke="#111" stroke-width="1.1" fill="none"/>
<path class="k" d="M423.8 1005.5L440.4 1003.9V1007.1ZM655.8 1005.5L640 1003.9V1007.1Z"/>
<path d="M628 964.8L663 997.2" stroke="#111" stroke-width="1.2" fill="none"/>
<path class="k" d="M621.2 958.5L633.9 967.6L631.6 970.1ZM670.2 1003.8L657.6 994.7L659.9 992.2Z"/>
<text transform="translate(675.4 775.6) rotate(90)" style="font-size:14.4px;stroke:#1a1a1a;stroke-width:0.3" textLength="129.6" lengthAdjust="spacingAndGlyphs">min 50 cm ... max 160 cm</text>
<text transform="translate(635.2 966.2) rotate(42.8)" style="font-size:13.8px;stroke:#1a1a1a;stroke-width:0.3" textLength="32.4" lengthAdjust="spacingAndGlyphs">70 cm</text>
<text x="516.8" y="999.7" style="font-size:13px;stroke:#1a1a1a;stroke-width:0.3" textLength="44.6" lengthAdjust="spacingAndGlyphs">ø125 cm</text>
</g>
<g id="notes">
<text x="224.6" y="822.8" style="font-weight:bold;font-size:15.4px;stroke:#1a1a1a;stroke-width:0.3" textLength="55.4" lengthAdjust="spacing">733247</text>
<path class="k" d="M224.70 837.00h13.33v1.95h-13.33zM239.87 837.00h9.53v1.95h-9.53zM251.25 837.00h3.84v1.95h-3.84zM260.73 837.00h1.95v1.95h-1.95zM266.42 837.00h13.33v1.95h-13.33zM224.70 838.90h1.95v1.95h-1.95zM236.08 838.90h1.95v1.95h-1.95zM239.87 838.90h3.84v1.95h-3.84zM245.56 838.90h3.84v1.95h-3.84zM253.15 838.90h1.95v1.95h-1.95zM262.63 838.90h1.95v1.95h-1.95zM266.42 838.90h1.95v1.95h-1.95zM277.80 838.90h1.95v1.95h-1.95zM224.70 840.79h1.95v1.95h-1.95zM228.49 840.79h5.74v1.95h-5.74zM236.08 840.79h1.95v1.95h-1.95zM243.67 840.79h1.95v1.95h-1.95zM247.46 840.79h1.95v1.95h-1.95zM256.94 840.79h3.84v1.95h-3.84zM262.63 840.79h1.95v1.95h-1.95zM266.42 840.79h1.95v1.95h-1.95zM270.22 840.79h5.74v1.95h-5.74zM277.80 840.79h1.95v1.95h-1.95zM224.70 842.69h1.95v1.95h-1.95zM228.49 842.69h5.74v1.95h-5.74zM236.08 842.69h1.95v1.95h-1.95zM239.87 842.69h3.84v1.95h-3.84zM247.46 842.69h9.53v1.95h-9.53zM258.84 842.69h5.74v1.95h-5.74zM266.42 842.69h1.95v1.95h-1.95zM270.22 842.69h5.74v1.95h-5.74zM277.80 842.69h1.95v1.95h-1.95zM224.70 844.59h1.95v1.95h-1.95zM228.49 844.59h5.74v1.95h-5.74zM236.08 844.59h1.95v1.95h-1.95zM239.87 844.59h20.91v1.95h-20.91zM266.42 844.59h1.95v1.95h-1.95zM270.22 844.59h5.74v1.95h-5.74zM277.80 844.59h1.95v1.95h-1.95zM224.70 846.48h1.95v1.95h-1.95zM236.08 846.48h1.95v1.95h-1.95zM243.67 846.48h1.95v1.95h-1.95zM247.46 846.48h1.95v1.95h-1.95zM256.94 846.48h5.74v1.95h-5.74zM266.42 846.48h1.95v1.95h-1.95zM277.80 846.48h1.95v1.95h-1.95zM224.70 848.38h13.33v1.95h-13.33zM239.87 848.38h1.95v1.95h-1.95zM243.67 848.38h1.95v1.95h-1.95zM247.46 848.38h1.95v1.95h-1.95zM251.25 848.38h1.95v1.95h-1.95zM255.04 848.38h1.95v1.95h-1.95zM258.84 848.38h1.95v1.95h-1.95zM262.63 848.38h1.95v1.95h-1.95zM266.42 848.38h13.33v1.95h-13.33zM239.87 850.28h3.84v1.95h-3.84zM247.46 850.28h5.74v1.95h-5.74zM256.94 850.28h1.95v1.95h-1.95zM224.70 852.17h1.95v1.95h-1.95zM230.39 852.17h7.64v1.95h-7.64zM239.87 852.17h5.74v1.95h-5.74zM247.46 852.17h3.84v1.95h-3.84zM255.04 852.17h1.95v1.95h-1.95zM264.53 852.17h7.64v1.95h-7.64zM274.01 852.17h3.84v1.95h-3.84zM226.60 854.07h1.95v1.95h-1.95zM234.18 854.07h1.95v1.95h-1.95zM237.98 854.07h3.84v1.95h-3.84zM251.25 854.07h1.95v1.95h-1.95zM260.73 854.07h1.95v1.95h-1.95zM264.53 854.07h1.95v1.95h-1.95zM274.01 854.07h1.95v1.95h-1.95zM226.60 855.97h11.43v1.95h-11.43zM243.67 855.97h1.95v1.95h-1.95zM249.36 855.97h1.95v1.95h-1.95zM255.04 855.97h1.95v1.95h-1.95zM258.84 855.97h3.84v1.95h-3.84zM266.42 855.97h3.84v1.95h-3.84zM272.11 855.97h5.74v1.95h-5.74zM224.70 857.86h1.95v1.95h-1.95zM228.49 857.86h5.74v1.95h-5.74zM237.98 857.86h1.95v1.95h-1.95zM245.56 857.86h5.74v1.95h-5.74zM253.15 857.86h5.74v1.95h-5.74zM262.63 857.86h3.84v1.95h-3.84zM272.11 857.86h3.84v1.95h-3.84zM277.80 857.86h1.95v1.95h-1.95zM224.70 859.76h1.95v1.95h-1.95zM232.29 859.76h1.95v1.95h-1.95zM236.08 859.76h1.95v1.95h-1.95zM239.87 859.76h3.84v1.95h-3.84zM247.46 859.76h3.84v1.95h-3.84zM253.15 859.76h13.33v1.95h-13.33zM268.32 859.76h1.95v1.95h-1.95zM272.11 859.76h7.64v1.95h-7.64zM224.70 861.66h1.95v1.95h-1.95zM230.39 861.66h3.84v1.95h-3.84zM239.87 861.66h3.84v1.95h-3.84zM245.56 861.66h1.95v1.95h-1.95zM253.15 861.66h1.95v1.95h-1.95zM260.73 861.66h9.53v1.95h-9.53zM272.11 861.66h5.74v1.95h-5.74zM228.49 863.55h13.33v1.95h-13.33zM247.46 863.55h1.95v1.95h-1.95zM251.25 863.55h9.53v1.95h-9.53zM262.63 863.55h1.95v1.95h-1.95zM266.42 863.55h13.33v1.95h-13.33zM224.70 865.45h1.95v1.95h-1.95zM237.98 865.45h3.84v1.95h-3.84zM243.67 865.45h1.95v1.95h-1.95zM249.36 865.45h1.95v1.95h-1.95zM260.73 865.45h1.95v1.95h-1.95zM224.70 867.34h9.53v1.95h-9.53zM236.08 867.34h1.95v1.95h-1.95zM243.67 867.34h3.84v1.95h-3.84zM256.94 867.34h1.95v1.95h-1.95zM260.73 867.34h5.74v1.95h-5.74zM268.32 867.34h1.95v1.95h-1.95zM274.01 867.34h5.74v1.95h-5.74zM232.29 869.24h3.84v1.95h-3.84zM239.87 869.24h1.95v1.95h-1.95zM243.67 869.24h5.74v1.95h-5.74zM255.04 869.24h1.95v1.95h-1.95zM258.84 869.24h5.74v1.95h-5.74zM266.42 869.24h1.95v1.95h-1.95zM272.11 869.24h3.84v1.95h-3.84zM224.70 871.14h5.74v1.95h-5.74zM232.29 871.14h1.95v1.95h-1.95zM236.08 871.14h1.95v1.95h-1.95zM241.77 871.14h1.95v1.95h-1.95zM251.25 871.14h1.95v1.95h-1.95zM255.04 871.14h17.12v1.95h-17.12zM274.01 871.14h1.95v1.95h-1.95zM224.70 873.03h1.95v1.95h-1.95zM232.29 873.03h3.84v1.95h-3.84zM241.77 873.03h9.53v1.95h-9.53zM253.15 873.03h1.95v1.95h-1.95zM256.94 873.03h3.84v1.95h-3.84zM262.63 873.03h3.84v1.95h-3.84zM226.60 874.93h1.95v1.95h-1.95zM230.39 874.93h1.95v1.95h-1.95zM236.08 874.93h3.84v1.95h-3.84zM241.77 874.93h7.64v1.95h-7.64zM253.15 874.93h1.95v1.95h-1.95zM256.94 874.93h1.95v1.95h-1.95zM260.73 874.93h13.33v1.95h-13.33zM277.80 874.93h1.95v1.95h-1.95zM243.67 876.83h3.84v1.95h-3.84zM249.36 876.83h7.64v1.95h-7.64zM258.84 876.83h1.95v1.95h-1.95zM262.63 876.83h1.95v1.95h-1.95zM270.22 876.83h5.74v1.95h-5.74zM224.70 878.72h13.33v1.95h-13.33zM239.87 878.72h1.95v1.95h-1.95zM249.36 878.72h5.74v1.95h-5.74zM262.63 878.72h1.95v1.95h-1.95zM266.42 878.72h1.95v1.95h-1.95zM270.22 878.72h1.95v1.95h-1.95zM274.01 878.72h1.95v1.95h-1.95zM224.70 880.62h1.95v1.95h-1.95zM236.08 880.62h1.95v1.95h-1.95zM241.77 880.62h3.84v1.95h-3.84zM247.46 880.62h5.74v1.95h-5.74zM258.84 880.62h5.74v1.95h-5.74zM270.22 880.62h3.84v1.95h-3.84zM275.91 880.62h3.84v1.95h-3.84zM224.70 882.52h1.95v1.95h-1.95zM228.49 882.52h5.74v1.95h-5.74zM236.08 882.52h1.95v1.95h-1.95zM245.56 882.52h1.95v1.95h-1.95zM249.36 882.52h1.95v1.95h-1.95zM253.15 882.52h3.84v1.95h-3.84zM258.84 882.52h1.95v1.95h-1.95zM262.63 882.52h9.53v1.95h-9.53zM274.01 882.52h5.74v1.95h-5.74zM224.70 884.41h1.95v1.95h-1.95zM228.49 884.41h5.74v1.95h-5.74zM236.08 884.41h1.95v1.95h-1.95zM243.67 884.41h3.84v1.95h-3.84zM251.25 884.41h1.95v1.95h-1.95zM255.04 884.41h13.33v1.95h-13.33zM270.22 884.41h1.95v1.95h-1.95zM274.01 884.41h3.84v1.95h-3.84zM224.70 886.31h1.95v1.95h-1.95zM228.49 886.31h5.74v1.95h-5.74zM236.08 886.31h1.95v1.95h-1.95zM241.77 886.31h3.84v1.95h-3.84zM249.36 886.31h5.74v1.95h-5.74zM256.94 886.31h1.95v1.95h-1.95zM262.63 886.31h3.84v1.95h-3.84zM270.22 886.31h1.95v1.95h-1.95zM274.01 886.31h5.74v1.95h-5.74zM224.70 888.21h1.95v1.95h-1.95zM236.08 888.21h1.95v1.95h-1.95zM241.77 888.21h7.64v1.95h-7.64zM251.25 888.21h1.95v1.95h-1.95zM262.63 888.21h5.74v1.95h-5.74zM270.22 888.21h3.84v1.95h-3.84zM275.91 888.21h3.84v1.95h-3.84zM224.70 890.10h13.33v1.95h-13.33zM239.87 890.10h3.84v1.95h-3.84zM245.56 890.10h5.74v1.95h-5.74zM260.73 890.10h1.95v1.95h-1.95zM264.53 890.10h1.95v1.95h-1.95zM268.32 890.10h1.95v1.95h-1.95zM272.11 890.10h7.64v1.95h-7.64z"/>
<text class="note" x="151.6" y="946.3" textLength="167.4" lengthAdjust="spacingAndGlyphs">1. Светильник работает</text>
<text class="note" x="151.9" y="966.3" textLength="215.4" lengthAdjust="spacingAndGlyphs">от сетевого напряжения 230В.</text>
<text class="note" x="151.6" y="986.4" textLength="251.2" lengthAdjust="spacingAndGlyphs">2. Всегда выключайте напряжение,</text>
<text class="note" x="151.9" y="1006.3" textLength="244.4" lengthAdjust="spacingAndGlyphs">когда устанавливаете светильник.</text>
</g>
</svg>
</body>
</html>
